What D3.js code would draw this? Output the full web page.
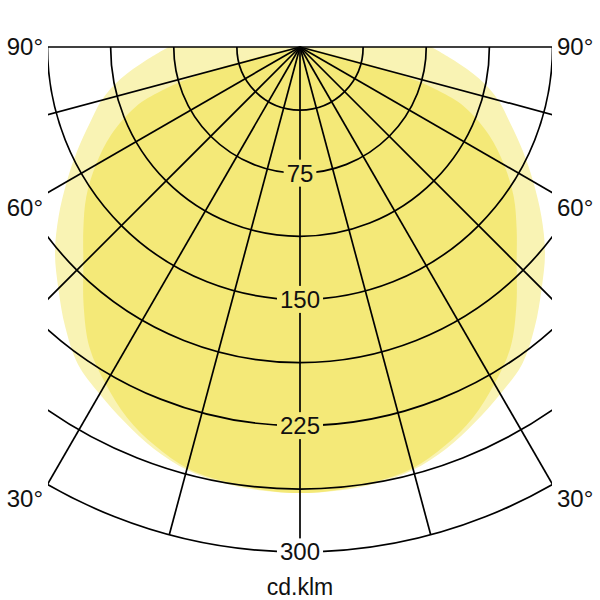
<!DOCTYPE html>
<html><head><meta charset="utf-8">
<script src="https://cdn.jsdelivr.net/npm/d3@7"></script>
<style>body{margin:0;background:#fff} svg{display:block}</style>
</head><body>
<svg id="c" width="600" height="600"></svg>
<script>
// ---- data (cd/klm, angle from nadir in degrees; symmetric both sides) ----
const c0Angles  = [0,5,10,15,20,25,30,35,40,45,50,55,60,65,70,72.5,75,77.5,80,85,90];
const c0Values  = [265,264,262,259,252,243,231,218,200,182,168,155,140,124,104,86,57,12,0,0,0];
const c90Angles = [0,5,10,15,20,25,30,35,40,45,50,55,60,65,70,75,80,85,90];
const c90Values = [265,264.5,263,260,254,246,238,230,217,203,190,175,160,146,133,122,108,92,78];
const gridAngles = [0,15,30,45,60,75,90];
const ringValues = [37.5,75,112.5,150,187.5,225,262.5,300];
const tickValues = [75,150,225,300];
const sideAngles = [90,60,30];
const sideLabels = ["90°","60°","30°"];
const unitLabel = "cd.klm";

// ---- layout ----
const W = 600, H = 600;
const cx = 300, cy = 47;
const left = 48, right = 552;
const font = "'Liberation Sans', Arial, sans-serif";
const r = d3.scaleLinear().domain([0, 300]).range([0, 505]);
const rad = d => d * Math.PI / 180;

const svg = d3.select("#c");
const defs = svg.append("defs");

defs.append("clipPath").attr("id", "frame")
  .append("rect").attr("x", left).attr("y", cy - 1).attr("width", right - left).attr("height", H - cy);

function seriesPoints(angles, values) {
  const pts = [];
  for (let i = angles.length - 1; i >= 0; i--) pts.push({a: Math.PI + rad(angles[i]), v: values[i]});
  for (let i = 1; i < angles.length; i++) pts.push({a: Math.PI - rad(angles[i]), v: values[i]});
  return pts;
}
const radial = d3.lineRadial().angle(d => d.a).radius(d => r(d.v)).curve(d3.curveCatmullRom.alpha(0.5));
const p0 = radial(seriesPoints(c0Angles, c0Values)) + "Z";
const p90 = radial(seriesPoints(c90Angles, c90Values)) + "Z";

defs.append("clipPath").attr("id", "c90clip")
  .append("path").attr("d", p90).attr("transform", `translate(${cx},${cy})`);

const fills = svg.append("g").attr("clip-path", "url(#frame)");
const fg = fills.append("g").attr("transform", `translate(${cx},${cy})`);
fg.append("path").attr("d", p90).attr("fill", "#f9f3b4");
fg.append("path").attr("d", p0).attr("fill", "#f9f3b4");
fills.append("g").attr("clip-path", "url(#c90clip)")
  .append("path").attr("d", p0).attr("transform", `translate(${cx},${cy})`).attr("fill", "#f4e978");

const grid = svg.append("g").attr("clip-path", "url(#frame)");
const labels = svg.append("g").attr("font-family", font).attr("fill", "#111");

// ---- tick labels (measured for grid gaps) ----
const tickText = labels.selectAll("text.tick").data(tickValues).join("text")
  .attr("class", "tick")
  .attr("x", cx).attr("y", d => cy + r(d)).attr("dy", "0.35em")
  .attr("text-anchor", "middle").attr("font-size", 24)
  .text(d => d);

const mask = defs.append("mask").attr("id", "gaps").attr("maskUnits", "userSpaceOnUse")
  .attr("x", 0).attr("y", 0).attr("width", W).attr("height", H);
mask.append("rect").attr("x", 0).attr("y", 0).attr("width", W).attr("height", H).attr("fill", "#fff");
tickText.each(function() {
  const b = this.getBBox();
  mask.append("rect").attr("x", b.x - 3).attr("y", b.y).attr("width", b.width + 6).attr("height", b.height).attr("fill", "#000");
});

// ---- grid ----
const gridInner = grid.append("g").attr("mask", "url(#gaps)")
  .attr("fill", "none").attr("stroke", "#000").attr("stroke-width", 1.7);

gridInner.selectAll("path.ring").data(ringValues).join("path")
  .attr("class", "ring")
  .attr("d", d => { const p = d3.path(); p.arc(cx, cy, r(d), 0, Math.PI); return p.toString(); });

const spokes = [];
gridAngles.forEach(a => { spokes.push(a); if (a !== 0) spokes.push(-a); });
gridInner.selectAll("line.spoke").data(spokes).join("line")
  .attr("class", "spoke")
  .attr("x1", cx).attr("y1", cy)
  .attr("x2", d => cx + r(300) * Math.sin(rad(d)))
  .attr("y2", d => cy + r(300) * Math.cos(rad(d)));

// ---- side angle labels ----
const half = right - cx;
sideAngles.forEach((a, i) => {
  const y = cy + (a === 90 ? 0 : half / Math.tan(rad(a)) + 15);
  labels.append("text").attr("x", left - 5).attr("y", y).attr("dy", "0.35em")
    .attr("text-anchor", "end").attr("font-size", 24).text(sideLabels[i]);
  labels.append("text").attr("x", right + 5).attr("y", y).attr("dy", "0.35em")
    .attr("text-anchor", "start").attr("font-size", 24).text(sideLabels[i]);
});

labels.append("text").attr("x", cx).attr("y", 595)
  .attr("text-anchor", "middle").attr("font-size", 23).text(unitLabel);
</script>
</body></html>
